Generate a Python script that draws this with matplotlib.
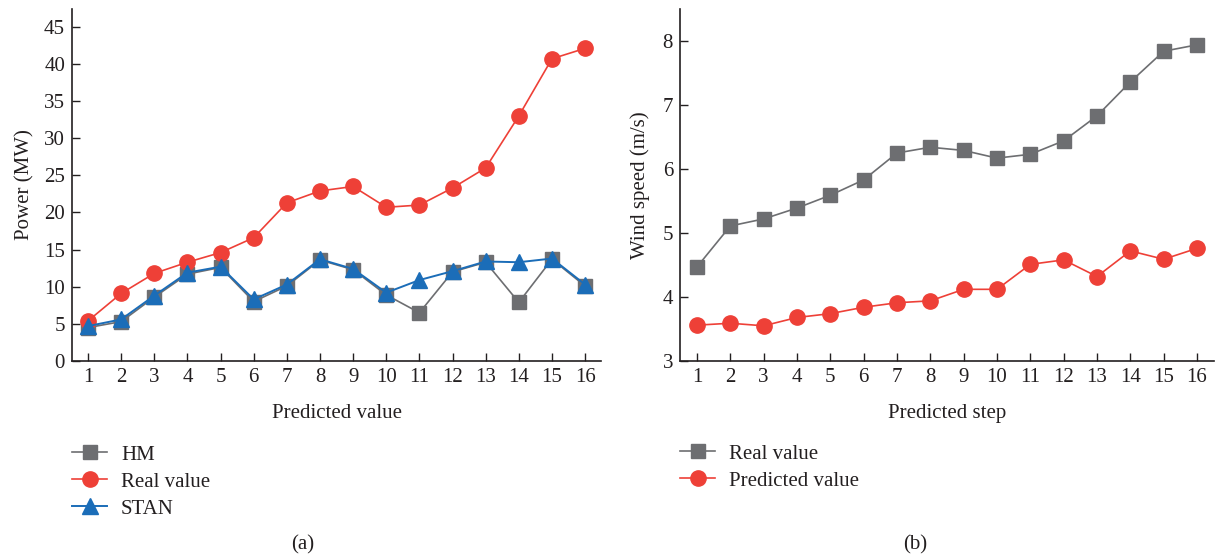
import numpy as np
import matplotlib
matplotlib.use('Agg')
import matplotlib.pyplot as plt

plt.rcParams['font.family'] = ['Liberation Serif', 'DejaVu Serif']

steps = list(range(1, 17))

# (a) power forecast
power_hm = [4.5, 5.3, 8.6, 11.7, 12.6, 8.0, 10.1, 13.6, 12.3, 8.9, 6.5, 12.0, 13.3, 7.9, 13.7, 10.1]
power_real = [5.4, 9.1, 11.8, 13.3, 14.6, 16.6, 21.3, 22.9, 23.5, 20.7, 21.0, 23.3, 26.0, 33.0, 40.7, 42.1]
power_stan = [4.7, 5.6, 8.8, 11.9, 12.7, 8.3, 10.3, 13.7, 12.4, 9.2, 10.9, 12.1, 13.4, 13.3, 13.8, 10.3]

# (b) wind speed forecast
wind_real = [4.47, 5.11, 5.22, 5.39, 5.59, 5.83, 6.25, 6.34, 6.29, 6.17, 6.23, 6.44, 6.83, 7.36, 7.84, 7.94]
wind_pred = [3.56, 3.59, 3.55, 3.68, 3.74, 3.84, 3.91, 3.94, 4.12, 4.12, 4.51, 4.58, 4.32, 4.72, 4.59, 4.76]

GRAY = '#6d6e71'
RED = '#ee4037'
BLUE = '#1b6db8'
TXT = '#231f20'
FS = 15
W, H = 1218, 559

fig = plt.figure(figsize=(W / 100, H / 100), dpi=100)
# axes boxes in pixels: left, right, bottom, top
ax1 = fig.add_axes([72 / W, 1 - 361 / H, (601 - 72) / W, (361 - 9) / H])
ax2 = fig.add_axes([680 / W, 1 - 361 / H, (1214 - 680) / W, (361 - 9) / H])


def style(ax):
    for s in ('top', 'right'):
        ax.spines[s].set_visible(False)
    for s in ('left', 'bottom'):
        ax.spines[s].set_linewidth(1.2)
        ax.spines[s].set_color(TXT)
    ax.tick_params(direction='in', length=6, width=1.0, color=TXT,
                   labelsize=FS, labelcolor=TXT, pad=5)
    ax.set_xticks(steps)


def add_legend(ax, handles, left_px, top_px):
    ax.legend(handles=handles, loc='upper left',
              bbox_to_anchor=(left_px / W, 1 - top_px / H),
              bbox_transform=fig.transFigure, frameon=False, fontsize=FS,
              borderpad=0, borderaxespad=0, handlelength=1.7,
              handletextpad=0.65, labelspacing=0.36, labelcolor=TXT)


l_hm, = ax1.plot(steps, power_hm, color=GRAY, lw=1.2, marker='s', ms=9.5,
                 mfc=GRAY, mec=GRAY, label='HM', zorder=2)
l_real, = ax1.plot(steps, power_real, color=RED, lw=1.2, marker='o', ms=11,
                   mfc=RED, mec=RED, label='Real value', zorder=3)
l_stan, = ax1.plot(steps, power_stan, color=BLUE, lw=1.4, marker='^', ms=12,
                   mfc=BLUE, mec=BLUE, label='STAN', zorder=4)
style(ax1)
ax1.set_xlim(0.517, 16.48)
ax1.set_ylim(0, 47.4)
ax1.set_yticks(np.arange(0, 50, 5))
ax1.set_ylabel('Power (MW)', fontsize=FS, color=TXT)
ax1.yaxis.set_label_coords(-0.071, 0.5)
ax1.set_xlabel('Predicted value', fontsize=FS, color=TXT)
ax1.xaxis.set_label_coords(0.5, -0.122)
add_legend(ax1, [l_hm, l_real, l_stan], 72, 445)

r_real, = ax2.plot(steps, wind_real, color=GRAY, lw=1.2, marker='s', ms=9.5,
                   mfc=GRAY, mec=GRAY, label='Real value')
r_pred, = ax2.plot(steps, wind_pred, color=RED, lw=1.2, marker='o', ms=11,
                   mfc=RED, mec=RED, label='Predicted value')
style(ax2)
ax2.set_xlim(0.49, 16.51)
ax2.set_ylim(3, 8.5)
ax2.set_yticks(np.arange(3, 9, 1))
ax2.set_ylabel('Wind speed (m/s)', fontsize=FS, color=TXT)
ax2.yaxis.set_label_coords(-0.056, 0.5)
ax2.set_xlabel('Predicted step', fontsize=FS, color=TXT)
ax2.xaxis.set_label_coords(0.5, -0.122)
add_legend(ax2, [r_real, r_pred], 680, 444)

fig.text(303 / W, 1 - 545 / H, '(a)', ha='center', va='center', fontsize=FS, color=TXT)
fig.text(915 / W, 1 - 545 / H, '(b)', ha='center', va='center', fontsize=FS, color=TXT)

fig.savefig('out.png', dpi=100)
